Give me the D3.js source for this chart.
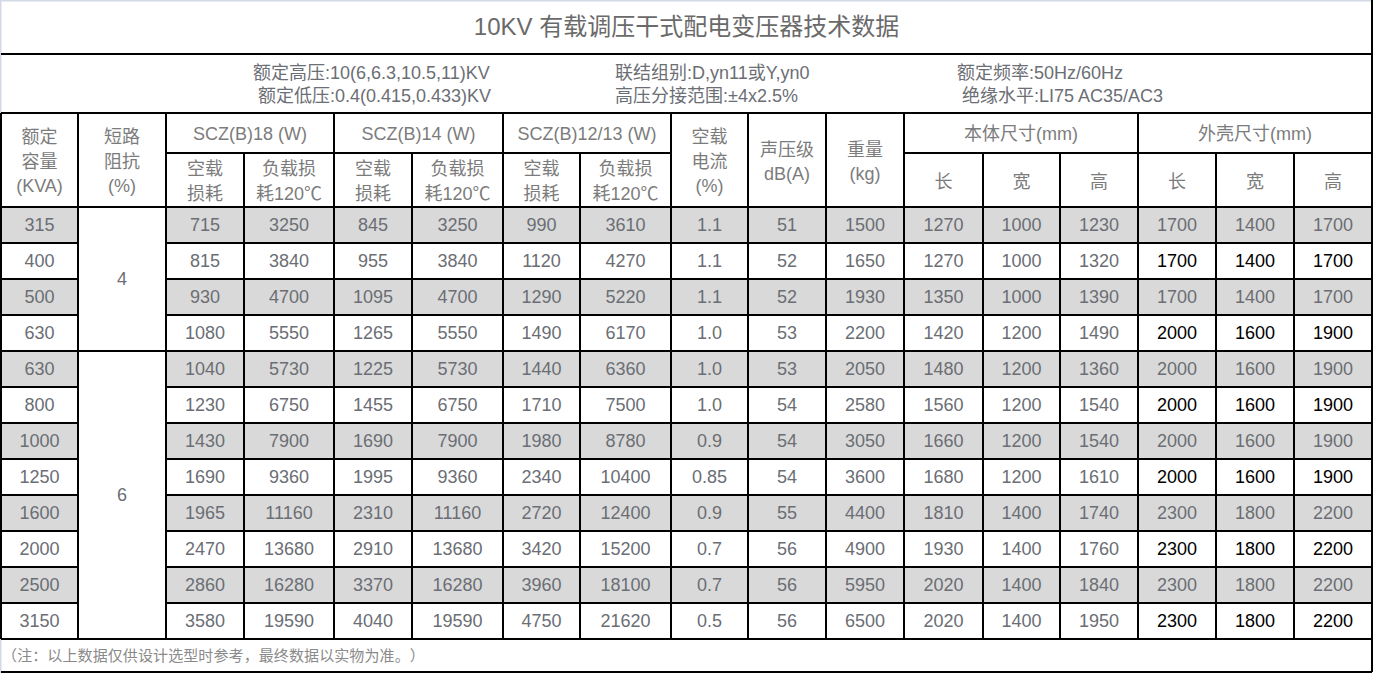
<!DOCTYPE html>
<html><head><meta charset="utf-8">
<script src="https://cdn.jsdelivr.net/npm/d3@7"></script>
<style>
html,body{margin:0;padding:0;background:#fff;}
svg{display:block;}
text{font-family:"Liberation Sans",Arial,"Noto Sans CJK SC",sans-serif;}
text.cjk{font-family:"Noto Sans CJK SC",sans-serif;}
</style></head>
<body><svg id="c" width="1384" height="685"></svg>
<script>
const title = "10KV 有载调压干式配电变压器技术数据";
const infoLines = [
  ["额定高压:10(6,6.3,10.5,11)KV", "联结组别:D,yn11或Y,yn0", "额定频率:50Hz/60Hz"],
  ["额定低压:0.4(0.415,0.433)KV", "高压分接范围:±4x2.5%", "绝缘水平:LI75 AC35/AC3"]
];
const footnote = "（注：以上数据仅供设计选型时参考，最终数据以实物为准。）";

const capacity   = ["315","400","500","630","630","800","1000","1250","1600","2000","2500","3150"];
const impedance  = ["4","6"];
const impedanceSpan = [4, 8];
const scz18NoLoad = ["715","815","930","1080","1040","1230","1430","1690","1965","2470","2860","3580"];
const scz18Load   = ["3250","3840","4700","5550","5730","6750","7900","9360","11160","13680","16280","19590"];
const scz14NoLoad = ["845","955","1095","1265","1225","1455","1690","1995","2310","2910","3370","4040"];
const scz14Load   = ["3250","3840","4700","5550","5730","6750","7900","9360","11160","13680","16280","19590"];
const scz12NoLoad = ["990","1120","1290","1490","1440","1710","1980","2340","2720","3420","3960","4750"];
const scz12Load   = ["3610","4270","5220","6170","6360","7500","8780","10400","12400","15200","18100","21620"];
const noLoadCurrent = ["1.1","1.1","1.1","1.0","1.0","1.0","0.9","0.85","0.9","0.7","0.7","0.5"];
const noiseLevel  = ["51","52","52","53","53","54","54","54","55","56","56","56"];
const weight      = ["1500","1650","1930","2200","2050","2580","3050","3600","4400","4900","5950","6500"];
const bodyL = ["1270","1270","1350","1420","1480","1560","1660","1680","1810","1930","2020","2020"];
const bodyW = ["1000","1000","1000","1200","1200","1200","1200","1200","1400","1400","1400","1400"];
const bodyH = ["1230","1320","1390","1490","1360","1540","1540","1610","1740","1760","1840","1950"];
const caseL = ["1700","1700","1700","2000","2000","2000","2000","2000","2300","2300","2300","2300"];
const caseW = ["1400","1400","1400","1600","1600","1600","1600","1600","1800","1800","1800","1800"];
const caseH = ["1700","1700","1700","1900","1900","1900","1900","1900","2200","2200","2200","2200"];

const groupHeaders = ["SCZ(B)18 (W)","SCZ(B)14 (W)","SCZ(B)12/13 (W)","本体尺寸(mm)","外壳尺寸(mm)"];
const singleHeaders = [["额定","容量","(KVA)"],["短路","阻抗","(%)"],["空载","电流","(%)"],["声压级","dB(A)"],["重量","(kg)"]];
const lossSubHeaders = [["空载","损耗"],["负载损","耗120℃"]];
const dimSubHeaders = ["长","宽","高"];

// ---------- layout ----------
const svg = d3.select("#c");
const edges = [1,78,166,244,334,412,503,580,671,748,826,904,983,1060,1138,1216,1294,1372];
const colX0 = i => edges[i], colX1 = i => edges[i+1], colC = i => (edges[i]+edges[i+1])/2;
const nRows = capacity.length;
const y = d3.scaleBand().domain(d3.range(nRows)).range([207, 639]);
const TXT = "#6b6e74", HDR = "#7c7c7c", LINE = "#000", FRAME = "#d3dae6";

// row shading
const shaded = d3.range(nRows).filter(i => i % 2 === 0);
svg.selectAll("rect.shade").data(shaded).enter().append("rect")
  .attr("x", edges[0]).attr("y", d => y(d)).attr("width", edges[17]-edges[0]).attr("height", y.bandwidth())
  .attr("fill", "#d9d9d9");
let start = 0;
impedanceSpan.forEach((s, k) => {
  svg.append("rect").attr("x", colX0(1)).attr("y", y(start)).attr("width", colX1(1)-colX0(1))
    .attr("height", y.bandwidth()*s).attr("fill", "#fff");
  start += s;
});

// frame (light)
svg.append("line").attr("x1",0).attr("x2",1373).attr("y1",0.5).attr("y2",0.5).attr("stroke",FRAME).attr("stroke-width",2);
svg.append("line").attr("x1",0.5).attr("x2",0.5).attr("y1",0).attr("y2",673).attr("stroke",FRAME).attr("stroke-width",2);

// title
svg.append("text").attr("x",(edges[0]+edges[17])/2).attr("y",27).attr("dy","0.35em")
  .attr("text-anchor","middle").attr("font-size",24).attr("fill","#6a6a6a").text(title);

// info lines
const infoX = [[253,615,957],[258,615,962]];
const infoY = [73, 96];
infoLines.forEach((line, r) => line.forEach((t, c) => {
  svg.append("text").attr("x", infoX[r][c]).attr("y", infoY[r]).attr("dy","0.35em")
    .attr("font-size",18).attr("fill",TXT).text(t);
}));

// header texts
function multi(lines, cx, cy, gap, size, fill){
  const n = lines.length;
  lines.forEach((t,i)=>{
    const tx = svg.append("text").attr("x",cx).attr("y",cy + (i-(n-1)/2)*gap).attr("dy","0.35em")
      .attr("text-anchor","middle").attr("font-size",size).attr("fill",fill);
    const parts = t.split(/(℃)/).filter(p=>p.length);
    parts.forEach(p=>{
      const ts = tx.append("tspan").text(p);
      if(p==="℃") ts.attr("font-family","Noto Sans CJK JP");
    });
  });
}
const singleCols = [0,1,8,9,10];
singleHeaders.forEach((h,k)=>multi(h, colC(singleCols[k]), 161.5, 24.5, 18, HDR));
const groupCols = [[2,3],[4,5],[6,7],[11,13],[14,16]];
groupHeaders.forEach((h,k)=>{
  const [a,b] = groupCols[k];
  multi([h], (colX0(a)+colX1(b))/2, 134, 0, 18, HDR);
});
[2,4,6].forEach(c=>{
  multi(lossSubHeaders[0], colC(c), 181.5, 25, 18, HDR);
  multi(lossSubHeaders[1], colC(c+1), 181.5, 25, 18, HDR);
});
[11,14].forEach(c=>dimSubHeaders.forEach((t,i)=>multi([t], colC(c+i), 182, 0, 18, HDR)));

// data
const columns = [capacity,null,scz18NoLoad,scz18Load,scz14NoLoad,scz14Load,scz12NoLoad,scz12Load,
  noLoadCurrent,noiseLevel,weight,bodyL,bodyW,bodyH,caseL,caseW,caseH];
columns.forEach((arr,c)=>{
  if(!arr) return;
  svg.selectAll(null).data(arr).enter().append("text")
    .attr("x", colC(c)).attr("y", (d,i)=>y(i)+y.bandwidth()/2).attr("dy","0.35em")
    .attr("text-anchor","middle").attr("font-size",18)
    .attr("fill",(d,i)=> (c>=14 && i%2===1) ? "#000" : TXT)
    .text(d=>d);
});
start = 0;
impedance.forEach((v,k)=>{
  const s = impedanceSpan[k];
  svg.append("text").attr("x",colC(1)).attr("y",y(start)+y.bandwidth()*s/2).attr("dy","0.35em")
    .attr("text-anchor","middle").attr("font-size",18).attr("fill",TXT).text(v);
  start += s;
});

// footnote: full-width cells, one text per character
const fnChars = Array.from(footnote);
const fnX = d3.scaleLinear().domain([0, fnChars.length]).range([2, 2 + fnChars.length*15.1]);
svg.append("g").attr("class","footnote").selectAll("text").data(fnChars).enter().append("text")
  .attr("class","cjk").attr("x",(d,i)=>fnX(i+0.5)).attr("y",656).attr("dy","0.35em")
  .attr("text-anchor","middle").attr("font-size",15).attr("fill","#8a8a8a").text(d=>d);

// grid lines
const g = svg.append("g").attr("stroke",LINE).attr("stroke-width",1.2).attr("shape-rendering","crispEdges");
function hl(x1,x2,yy){ g.append("line").attr("x1",x1).attr("x2",x2).attr("y1",yy).attr("y2",yy); }
function vl(xx,y1,y2){ g.append("line").attr("x1",xx).attr("x2",xx).attr("y1",y1).attr("y2",y2); }
hl(edges[0], edges[17], 54);
hl(edges[0], edges[17], 113);
hl(colX0(2), colX1(7), 153);
hl(colX0(11), colX1(16), 153);
hl(edges[0], edges[17], 207);
d3.range(1, nRows+1).forEach(i=>{
  const yy = i===nRows ? 639 : y(i);
  let cum = 0, boundary = (i===nRows);
  impedanceSpan.forEach(s=>{cum+=s; if(cum===i) boundary=true;});
  if(boundary) hl(edges[0], edges[17], yy);
  else { hl(edges[0], edges[1], yy); hl(edges[2], edges[17], yy); }
});
hl(edges[0], edges[17], 672);
const subOnly = new Set([3,5,7,12,13,15,16]);
edges.forEach((e,i)=>{
  if(i===17) { vl(e, 0, 672); return; }
  if(i===0) { vl(e, 113, 639); return; }
  vl(e, subOnly.has(i) ? 153 : 113, 639);
});
</script></body></html>
